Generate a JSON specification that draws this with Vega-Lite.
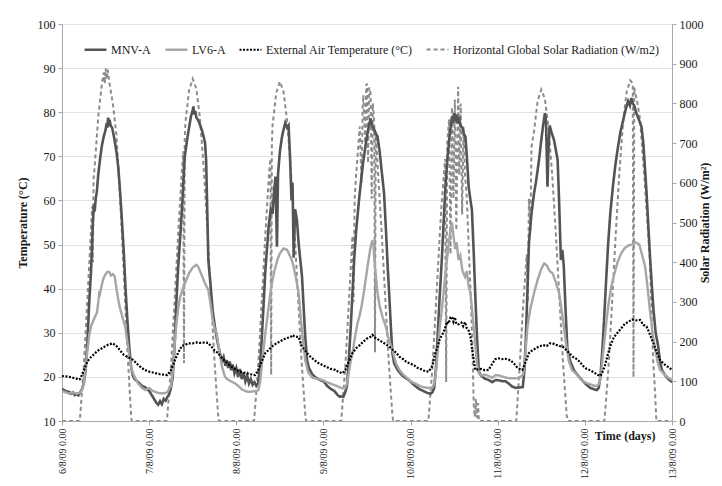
{
"$schema": "https://vega.github.io/schema/vega-lite/v6.json",
"width": 610, "height": 397,
"autosize": {"type": "none"},
"padding": {"left": 62, "top": 24, "right": 50, "bottom": 65},
"background": "white",
"config": {"font": "Liberation Serif", "view": {"stroke": null},
  "axis": {"labelFont": "Liberation Serif", "titleFont": "Liberation Serif", "labelColor": "#1a1a1a", "titleColor": "#1a1a1a", "domainColor": "#a8a8a8", "tickColor": "#a8a8a8", "tickSize": 4, "labelFontSize": 12, "titleFontSize": 12, "titleFontWeight": "bold"}},
"datasets": {"d": [
{"s":"M","t":0,"v":17.3},{"s":"M","t":1,"v":16.8},{"s":"M","t":2,"v":16.6},{"s":"M","t":2.5,"v":16.2},{"s":"M","t":3,"v":16.5},{"s":"M","t":3.5,"v":15.9},{"s":"M","t":4,"v":16.1},{"s":"M","t":4.5,"v":15.8},{"s":"M","t":5,"v":16.5},{"s":"M","t":5.5,"v":17.2},{"s":"M","t":6,"v":18.5},{"s":"M","t":6.5,"v":21.5},{"s":"M","t":7,"v":28},{"s":"M","t":7.5,"v":37},{"s":"M","t":8,"v":44},{"s":"M","t":8.5,"v":55},{"s":"M","t":8.8,"v":59},{"s":"M","t":9,"v":57.5},{"s":"M","t":9.3,"v":60.5},{"s":"M","t":9.6,"v":62},{"s":"M","t":10,"v":66},{"s":"M","t":10.5,"v":69.5},{"s":"M","t":11,"v":72.5},{"s":"M","t":11.5,"v":74.5},{"s":"M","t":12,"v":76},{"s":"M","t":12.3,"v":77.5},{"s":"M","t":12.5,"v":76.5},{"s":"M","t":12.7,"v":78.8},{"s":"M","t":12.9,"v":76.8},{"s":"M","t":13.1,"v":78.3},{"s":"M","t":13.4,"v":77},{"s":"M","t":13.8,"v":76.5},{"s":"M","t":14.3,"v":74.5},{"s":"M","t":15,"v":71},{"s":"M","t":15.5,"v":67.5},{"s":"M","t":16,"v":62},{"s":"M","t":16.5,"v":55.5},{"s":"M","t":17,"v":48.5},{"s":"M","t":17.5,"v":40},{"s":"M","t":18,"v":33},{"s":"M","t":18.5,"v":27},{"s":"M","t":19,"v":22.5},{"s":"M","t":19.5,"v":20.3},{"s":"M","t":20,"v":19.5},{"s":"M","t":21,"v":18.8},{"s":"M","t":22,"v":18},{"s":"M","t":23,"v":17.6},{"s":"M","t":24,"v":16.8},{"s":"M","t":25,"v":15.5},{"s":"M","t":25.5,"v":14.8},{"s":"M","t":26,"v":14.1},{"s":"M","t":26.5,"v":13.7},{"s":"M","t":27,"v":14.5},{"s":"M","t":27.5,"v":13.8},{"s":"M","t":28,"v":15},{"s":"M","t":28.5,"v":14.6},{"s":"M","t":29,"v":15.4},{"s":"M","t":29.5,"v":16},{"s":"M","t":30,"v":17.5},{"s":"M","t":30.5,"v":20},{"s":"M","t":31,"v":27},{"s":"M","t":31.5,"v":37},{"s":"M","t":32,"v":45},{"s":"M","t":32.5,"v":51},{"s":"M","t":32.9,"v":56.3},{"s":"M","t":33.3,"v":62},{"s":"M","t":33.8,"v":69.9},{"s":"M","t":34.5,"v":74},{"s":"M","t":35,"v":76.5},{"s":"M","t":35.5,"v":79},{"s":"M","t":36,"v":80.5},{"s":"M","t":36.2,"v":81.3},{"s":"M","t":36.4,"v":79.5},{"s":"M","t":36.7,"v":80.3},{"s":"M","t":37,"v":78.8},{"s":"M","t":37.5,"v":78.2},{"s":"M","t":38,"v":77.2},{"s":"M","t":38.5,"v":76},{"s":"M","t":39,"v":74.5},{"s":"M","t":39.4,"v":73},{"s":"M","t":39.7,"v":69},{"s":"M","t":40,"v":58},{"s":"M","t":40.3,"v":46.5},{"s":"M","t":41,"v":40},{"s":"M","t":41.5,"v":35},{"s":"M","t":42.1,"v":31.4},{"s":"M","t":42.8,"v":28},{"s":"M","t":43.5,"v":25.4},{"s":"M","t":44,"v":23.5},{"s":"M","t":44.5,"v":24.5},{"s":"M","t":45,"v":22.5},{"s":"M","t":45.4,"v":23.8},{"s":"M","t":45.8,"v":22},{"s":"M","t":46.2,"v":23.5},{"s":"M","t":46.6,"v":21.5},{"s":"M","t":47,"v":22.8},{"s":"M","t":47.5,"v":20.8},{"s":"M","t":48,"v":22},{"s":"M","t":48.5,"v":20},{"s":"M","t":49,"v":21.8},{"s":"M","t":49.5,"v":19.5},{"s":"M","t":50,"v":21},{"s":"M","t":50.5,"v":19},{"s":"M","t":51,"v":20.3},{"s":"M","t":51.5,"v":18.5},{"s":"M","t":52,"v":19.5},{"s":"M","t":52.5,"v":18.2},{"s":"M","t":53,"v":18.8},{"s":"M","t":53.5,"v":18},{"s":"M","t":54,"v":18.5},{"s":"M","t":54.5,"v":22},{"s":"M","t":55,"v":28.4},{"s":"M","t":55.5,"v":36},{"s":"M","t":56,"v":44},{"s":"M","t":56.9,"v":54},{"s":"M","t":57.5,"v":58},{"s":"M","t":58,"v":57},{"s":"M","t":58.4,"v":62},{"s":"M","t":58.8,"v":65.4},{"s":"M","t":59.2,"v":49.5},{"s":"M","t":59.5,"v":66},{"s":"M","t":60,"v":71},{"s":"M","t":60.6,"v":74.5},{"s":"M","t":61,"v":76},{"s":"M","t":61.5,"v":77.6},{"s":"M","t":62,"v":76.5},{"s":"M","t":62.4,"v":77},{"s":"M","t":62.8,"v":70},{"s":"M","t":63.2,"v":60},{"s":"M","t":63.5,"v":64},{"s":"M","t":63.8,"v":47},{"s":"M","t":64.2,"v":58},{"s":"M","t":64.7,"v":55.6},{"s":"M","t":65.2,"v":50},{"s":"M","t":65.7,"v":46},{"s":"M","t":66.1,"v":42.7},{"s":"M","t":66.6,"v":35},{"s":"M","t":67,"v":29},{"s":"M","t":67.5,"v":23.8},{"s":"M","t":68,"v":22},{"s":"M","t":69,"v":20.5},{"s":"M","t":70,"v":19.8},{"s":"M","t":71,"v":19.3},{"s":"M","t":72,"v":19},{"s":"M","t":73,"v":18},{"s":"M","t":74,"v":17.3},{"s":"M","t":75,"v":16.8},{"s":"M","t":76,"v":15.8},{"s":"M","t":76.5,"v":15.5},{"s":"M","t":77,"v":15.6},{"s":"M","t":77.5,"v":15.5},{"s":"M","t":78,"v":16.5},{"s":"M","t":78.5,"v":18},{"s":"M","t":79,"v":24},{"s":"M","t":79.5,"v":31},{"s":"M","t":80,"v":39},{"s":"M","t":80.5,"v":47},{"s":"M","t":81,"v":53},{"s":"M","t":81.8,"v":60.1},{"s":"M","t":82.5,"v":65.5},{"s":"M","t":83,"v":69},{"s":"M","t":83.7,"v":73},{"s":"M","t":84.3,"v":76},{"s":"M","t":85,"v":78.6},{"s":"M","t":85.4,"v":77},{"s":"M","t":85.8,"v":76.5},{"s":"M","t":86.3,"v":75.3},{"s":"M","t":86.9,"v":74.5},{"s":"M","t":87.5,"v":71},{"s":"M","t":88,"v":67},{"s":"M","t":88.7,"v":61.6},{"s":"M","t":89.3,"v":52},{"s":"M","t":89.7,"v":45},{"s":"M","t":90.1,"v":39},{"s":"M","t":90.6,"v":31},{"s":"M","t":91,"v":25.3},{"s":"M","t":91.5,"v":23},{"s":"M","t":92.5,"v":21.5},{"s":"M","t":93.5,"v":20.5},{"s":"M","t":94.5,"v":19.8},{"s":"M","t":95.5,"v":19.3},{"s":"M","t":96.5,"v":18.5},{"s":"M","t":97.5,"v":17.8},{"s":"M","t":98.5,"v":17.2},{"s":"M","t":99.5,"v":16.8},{"s":"M","t":100.5,"v":16.4},{"s":"M","t":101,"v":16.3},{"s":"M","t":101.5,"v":16.2},{"s":"M","t":102,"v":16.5},{"s":"M","t":102.5,"v":17.5},{"s":"M","t":103,"v":22},{"s":"M","t":103.5,"v":30},{"s":"M","t":104,"v":38},{"s":"M","t":104.6,"v":46.5},{"s":"M","t":105.1,"v":55},{"s":"M","t":105.6,"v":63.1},{"s":"M","t":106.2,"v":70},{"s":"M","t":106.8,"v":75},{"s":"M","t":107.4,"v":79},{"s":"M","t":107.7,"v":77.5},{"s":"M","t":108,"v":79.8},{"s":"M","t":108.3,"v":78},{"s":"M","t":108.6,"v":79.5},{"s":"M","t":108.9,"v":77.5},{"s":"M","t":109.3,"v":79},{"s":"M","t":109.7,"v":77},{"s":"M","t":110.3,"v":76.5},{"s":"M","t":110.7,"v":75},{"s":"M","t":111.1,"v":74.5},{"s":"M","t":111.5,"v":70},{"s":"M","t":112,"v":63.1},{"s":"M","t":112.5,"v":60},{"s":"M","t":112.9,"v":57.8},{"s":"M","t":113.4,"v":48},{"s":"M","t":113.8,"v":39},{"s":"M","t":114.3,"v":29},{"s":"M","t":114.8,"v":21.2},{"s":"M","t":115.5,"v":20.2},{"s":"M","t":116.5,"v":19.6},{"s":"M","t":117.5,"v":19.3},{"s":"M","t":118.5,"v":18.8},{"s":"M","t":119.4,"v":19.3},{"s":"M","t":120.5,"v":19.2},{"s":"M","t":121.5,"v":19},{"s":"M","t":122.2,"v":19},{"s":"M","t":123,"v":18.5},{"s":"M","t":124,"v":17.8},{"s":"M","t":125,"v":17.5},{"s":"M","t":126,"v":17.6},{"s":"M","t":126.9,"v":17.7},{"s":"M","t":127.3,"v":21},{"s":"M","t":127.7,"v":27.6},{"s":"M","t":128.2,"v":40},{"s":"M","t":128.6,"v":50.3},{"s":"M","t":129.3,"v":57},{"s":"M","t":130,"v":61.6},{"s":"M","t":130.5,"v":64},{"s":"M","t":131,"v":66.9},{"s":"M","t":131.5,"v":70},{"s":"M","t":131.9,"v":73},{"s":"M","t":132.5,"v":77},{"s":"M","t":133,"v":79.8},{"s":"M","t":133.3,"v":78},{"s":"M","t":133.7,"v":63.1},{"s":"M","t":134,"v":72},{"s":"M","t":134.3,"v":77},{"s":"M","t":134.8,"v":75.5},{"s":"M","t":135.5,"v":73.7},{"s":"M","t":136,"v":71.5},{"s":"M","t":136.5,"v":69.2},{"s":"M","t":136.9,"v":60},{"s":"M","t":137.4,"v":46.5},{"s":"M","t":137.8,"v":48.8},{"s":"M","t":138.2,"v":45},{"s":"M","t":138.7,"v":35},{"s":"M","t":139.2,"v":26.1},{"s":"M","t":140,"v":23.5},{"s":"M","t":141,"v":21.5},{"s":"M","t":142.4,"v":20},{"s":"M","t":143.5,"v":19},{"s":"M","t":144.5,"v":18.2},{"s":"M","t":145.5,"v":17.5},{"s":"M","t":146.5,"v":17.2},{"s":"M","t":147.3,"v":17},{"s":"M","t":147.8,"v":17.5},{"s":"M","t":148.3,"v":20},{"s":"M","t":148.8,"v":26},{"s":"M","t":149.3,"v":33},{"s":"M","t":149.8,"v":41},{"s":"M","t":150.4,"v":50},{"s":"M","t":151,"v":57},{"s":"M","t":151.7,"v":63},{"s":"M","t":152.4,"v":68},{"s":"M","t":153.1,"v":72},{"s":"M","t":153.8,"v":75.5},{"s":"M","t":154.5,"v":78},{"s":"M","t":155.2,"v":80.5},{"s":"M","t":155.9,"v":82.5},{"s":"M","t":156.4,"v":81.5},{"s":"M","t":156.8,"v":83.2},{"s":"M","t":157.2,"v":82},{"s":"M","t":157.6,"v":81.5},{"s":"M","t":158.1,"v":80},{"s":"M","t":158.8,"v":78.5},{"s":"M","t":159.6,"v":76.7},{"s":"M","t":160.1,"v":73},{"s":"M","t":160.5,"v":68},{"s":"M","t":161,"v":61.6},{"s":"M","t":161.5,"v":54},{"s":"M","t":162,"v":46.5},{"s":"M","t":162.5,"v":40},{"s":"M","t":162.9,"v":35.2},{"s":"M","t":163.5,"v":30},{"s":"M","t":164.2,"v":26.9},{"s":"M","t":164.7,"v":23.5},{"s":"M","t":165.2,"v":21.6},{"s":"M","t":166,"v":20.5},{"s":"M","t":167,"v":19.5},{"s":"M","t":168,"v":18.8},
{"s":"L","t":0,"v":16.8},{"s":"L","t":1,"v":16.5},{"s":"L","t":2,"v":16.2},{"s":"L","t":3,"v":16.5},{"s":"L","t":4,"v":16.2},{"s":"L","t":5,"v":16.4},{"s":"L","t":5.5,"v":17},{"s":"L","t":6,"v":18.5},{"s":"L","t":6.5,"v":22},{"s":"L","t":7,"v":26},{"s":"L","t":7.5,"v":29.5},{"s":"L","t":8,"v":31.5},{"s":"L","t":8.5,"v":32.5},{"s":"L","t":9,"v":33.5},{"s":"L","t":9.6,"v":34.5},{"s":"L","t":10,"v":37},{"s":"L","t":10.3,"v":39.5},{"s":"L","t":10.5,"v":39},{"s":"L","t":11,"v":41},{"s":"L","t":11.5,"v":42.5},{"s":"L","t":12,"v":43.3},{"s":"L","t":12.5,"v":43.8},{"s":"L","t":13,"v":43.8},{"s":"L","t":13.5,"v":43},{"s":"L","t":14,"v":43.3},{"s":"L","t":14.5,"v":42.8},{"s":"L","t":15,"v":40},{"s":"L","t":15.5,"v":37.5},{"s":"L","t":16,"v":35.5},{"s":"L","t":16.5,"v":34},{"s":"L","t":17,"v":32.5},{"s":"L","t":17.4,"v":31.4},{"s":"L","t":18,"v":28},{"s":"L","t":18.6,"v":24.5},{"s":"L","t":19.2,"v":21.6},{"s":"L","t":20,"v":20},{"s":"L","t":21,"v":18.5},{"s":"L","t":22,"v":17.5},{"s":"L","t":23,"v":17},{"s":"L","t":24,"v":17.5},{"s":"L","t":25,"v":16.8},{"s":"L","t":26,"v":16.5},{"s":"L","t":27,"v":16.3},{"s":"L","t":28,"v":16.3},{"s":"L","t":29,"v":16.5},{"s":"L","t":30,"v":18},{"s":"L","t":30.5,"v":21},{"s":"L","t":31,"v":27},{"s":"L","t":31.5,"v":32},{"s":"L","t":32,"v":35.5},{"s":"L","t":32.5,"v":38},{"s":"L","t":33.3,"v":40},{"s":"L","t":34,"v":41.5},{"s":"L","t":35,"v":43.5},{"s":"L","t":36,"v":44.8},{"s":"L","t":37,"v":45.4},{"s":"L","t":37.5,"v":45},{"s":"L","t":38,"v":44},{"s":"L","t":38.5,"v":43},{"s":"L","t":39,"v":42},{"s":"L","t":39.5,"v":41},{"s":"L","t":40.3,"v":39.7},{"s":"L","t":41,"v":36},{"s":"L","t":41.5,"v":33},{"s":"L","t":42,"v":31},{"s":"L","t":42.6,"v":29.9},{"s":"L","t":43.3,"v":26},{"s":"L","t":44,"v":22.5},{"s":"L","t":44.9,"v":20},{"s":"L","t":45.5,"v":19.5},{"s":"L","t":46.5,"v":19},{"s":"L","t":47.5,"v":18.6},{"s":"L","t":48.5,"v":18},{"s":"L","t":49.5,"v":17.2},{"s":"L","t":50.5,"v":16.8},{"s":"L","t":51.4,"v":16.6},{"s":"L","t":52.5,"v":16.7},{"s":"L","t":53.5,"v":16.8},{"s":"L","t":54.1,"v":17},{"s":"L","t":54.6,"v":19},{"s":"L","t":55.2,"v":24},{"s":"L","t":56,"v":29.9},{"s":"L","t":56.7,"v":34.5},{"s":"L","t":57.3,"v":38.5},{"s":"L","t":57.8,"v":41.2},{"s":"L","t":58.5,"v":44},{"s":"L","t":59.3,"v":46.5},{"s":"L","t":60,"v":48},{"s":"L","t":61,"v":49.1},{"s":"L","t":62,"v":48.8},{"s":"L","t":62.9,"v":47.2},{"s":"L","t":63.5,"v":46},{"s":"L","t":64.3,"v":43},{"s":"L","t":65.2,"v":38.9},{"s":"L","t":65.8,"v":33},{"s":"L","t":66.4,"v":28},{"s":"L","t":67,"v":23.8},{"s":"L","t":67.8,"v":21},{"s":"L","t":69,"v":19.8},{"s":"L","t":70.5,"v":19.5},{"s":"L","t":71.7,"v":19.3},{"s":"L","t":73,"v":18.8},{"s":"L","t":74.5,"v":18.3},{"s":"L","t":75.5,"v":18},{"s":"L","t":76.5,"v":17.6},{"s":"L","t":77.2,"v":17.4},{"s":"L","t":78,"v":17.5},{"s":"L","t":78.5,"v":18.5},{"s":"L","t":79,"v":21},{"s":"L","t":79.5,"v":23.5},{"s":"L","t":80,"v":25.3},{"s":"L","t":80.5,"v":28},{"s":"L","t":81,"v":30.5},{"s":"L","t":81.5,"v":32.5},{"s":"L","t":82,"v":34},{"s":"L","t":82.5,"v":36},{"s":"L","t":83.1,"v":39},{"s":"L","t":83.8,"v":43},{"s":"L","t":84.5,"v":47},{"s":"L","t":85,"v":49.5},{"s":"L","t":85.5,"v":51},{"s":"L","t":85.8,"v":49.5},{"s":"L","t":86.2,"v":45},{"s":"L","t":86.9,"v":39},{"s":"L","t":87.5,"v":36},{"s":"L","t":88.3,"v":33.5},{"s":"L","t":89.2,"v":31.4},{"s":"L","t":90,"v":28.5},{"s":"L","t":91,"v":26.1},{"s":"L","t":92,"v":23},{"s":"L","t":93,"v":21.5},{"s":"L","t":94,"v":20.5},{"s":"L","t":95,"v":19.8},{"s":"L","t":96,"v":19},{"s":"L","t":97,"v":18.6},{"s":"L","t":98,"v":18.2},{"s":"L","t":99,"v":17.8},{"s":"L","t":100,"v":17.6},{"s":"L","t":101,"v":17.5},{"s":"L","t":102,"v":17.6},{"s":"L","t":102.5,"v":18.5},{"s":"L","t":103,"v":21},{"s":"L","t":103.5,"v":26},{"s":"L","t":104,"v":31},{"s":"L","t":104.6,"v":35.2},{"s":"L","t":105.2,"v":40},{"s":"L","t":105.8,"v":45},{"s":"L","t":106.5,"v":50},{"s":"L","t":107,"v":53.5},{"s":"L","t":107.4,"v":55},{"s":"L","t":107.8,"v":52},{"s":"L","t":108.3,"v":49},{"s":"L","t":108.7,"v":50.5},{"s":"L","t":109.2,"v":46.5},{"s":"L","t":109.7,"v":47.5},{"s":"L","t":110.3,"v":44},{"s":"L","t":111,"v":42.7},{"s":"L","t":111.5,"v":44},{"s":"L","t":112,"v":40.5},{"s":"L","t":112.5,"v":39},{"s":"L","t":113.2,"v":33},{"s":"L","t":113.8,"v":27.6},{"s":"L","t":114.3,"v":23},{"s":"L","t":114.8,"v":20.8},{"s":"L","t":115.5,"v":20.3},{"s":"L","t":116.5,"v":20.5},{"s":"L","t":117.5,"v":20.2},{"s":"L","t":118.5,"v":19.8},{"s":"L","t":119.4,"v":20.4},{"s":"L","t":120.5,"v":20.3},{"s":"L","t":121.5,"v":20},{"s":"L","t":122.5,"v":19.8},{"s":"L","t":123.5,"v":19.7},{"s":"L","t":125,"v":19.7},{"s":"L","t":126,"v":19.8},{"s":"L","t":127,"v":20.5},{"s":"L","t":127.5,"v":24},{"s":"L","t":128.2,"v":31.4},{"s":"L","t":129,"v":35.5},{"s":"L","t":130,"v":39},{"s":"L","t":131,"v":42},{"s":"L","t":132,"v":44.5},{"s":"L","t":132.8,"v":45.7},{"s":"L","t":133.5,"v":45.3},{"s":"L","t":134.3,"v":44},{"s":"L","t":135.1,"v":43.5},{"s":"L","t":136,"v":41.5},{"s":"L","t":136.9,"v":39},{"s":"L","t":137.8,"v":34},{"s":"L","t":138.8,"v":27.6},{"s":"L","t":139.6,"v":23.5},{"s":"L","t":140.5,"v":21.5},{"s":"L","t":141.5,"v":20.8},{"s":"L","t":142.5,"v":19.8},{"s":"L","t":143.5,"v":19},{"s":"L","t":144.5,"v":18.6},{"s":"L","t":145.5,"v":18.3},{"s":"L","t":146.5,"v":18},{"s":"L","t":147.3,"v":17.9},{"s":"L","t":148,"v":18.5},{"s":"L","t":148.5,"v":21},{"s":"L","t":149,"v":25},{"s":"L","t":149.5,"v":29},{"s":"L","t":150,"v":33},{"s":"L","t":150.6,"v":37},{"s":"L","t":151.3,"v":40.5},{"s":"L","t":152,"v":43},{"s":"L","t":153,"v":46},{"s":"L","t":154,"v":48},{"s":"L","t":155,"v":49.2},{"s":"L","t":156,"v":49.8},{"s":"L","t":157,"v":50},{"s":"L","t":158,"v":50.5},{"s":"L","t":159,"v":50},{"s":"L","t":159.8,"v":47.5},{"s":"L","t":160.6,"v":45},{"s":"L","t":161.3,"v":40},{"s":"L","t":162,"v":34.5},{"s":"L","t":162.7,"v":29.5},{"s":"L","t":163.4,"v":26.1},{"s":"L","t":164,"v":23.5},{"s":"L","t":164.7,"v":21.6},{"s":"L","t":166,"v":20.5},{"s":"L","t":167,"v":19.8},{"s":"L","t":168,"v":19.3},
{"s":"A","t":0,"v":20.2},{"s":"A","t":1,"v":20.1},{"s":"A","t":2,"v":20},{"s":"A","t":3,"v":19.8},{"s":"A","t":4,"v":19.6},{"s":"A","t":4.5,"v":19.4},{"s":"A","t":5,"v":19.5},{"s":"A","t":5.5,"v":20.5},{"s":"A","t":6,"v":21.5},{"s":"A","t":6.5,"v":22.5},{"s":"A","t":7,"v":23.5},{"s":"A","t":8,"v":24.5},{"s":"A","t":9,"v":25.3},{"s":"A","t":10,"v":26},{"s":"A","t":11,"v":26.5},{"s":"A","t":12,"v":27},{"s":"A","t":13,"v":27.4},{"s":"A","t":14,"v":27.6},{"s":"A","t":15,"v":27},{"s":"A","t":16,"v":26},{"s":"A","t":17,"v":25},{"s":"A","t":18,"v":24.5},{"s":"A","t":19,"v":24.2},{"s":"A","t":20,"v":23.5},{"s":"A","t":21,"v":22.7},{"s":"A","t":22,"v":22},{"s":"A","t":23,"v":21.5},{"s":"A","t":24,"v":21.2},{"s":"A","t":25,"v":21},{"s":"A","t":26,"v":20.8},{"s":"A","t":27,"v":20.6},{"s":"A","t":28,"v":20.5},{"s":"A","t":29,"v":20.4},{"s":"A","t":30,"v":21.5},{"s":"A","t":30.5,"v":22.5},{"s":"A","t":31.1,"v":23.8},{"s":"A","t":32,"v":25.5},{"s":"A","t":33,"v":27},{"s":"A","t":34,"v":27.3},{"s":"A","t":34.8,"v":27.6},{"s":"A","t":36,"v":27.6},{"s":"A","t":37,"v":27.8},{"s":"A","t":38,"v":27.7},{"s":"A","t":39,"v":27.8},{"s":"A","t":40.3,"v":27.7},{"s":"A","t":41,"v":27},{"s":"A","t":42,"v":26},{"s":"A","t":43,"v":25.4},{"s":"A","t":44,"v":24.3},{"s":"A","t":45,"v":23.5},{"s":"A","t":46,"v":22.8},{"s":"A","t":46.7,"v":22.3},{"s":"A","t":47.5,"v":21.9},{"s":"A","t":48,"v":21.6},{"s":"A","t":49,"v":21.2},{"s":"A","t":50,"v":21},{"s":"A","t":51,"v":20.8},{"s":"A","t":52,"v":20.6},{"s":"A","t":53.2,"v":20.4},{"s":"A","t":54,"v":21.5},{"s":"A","t":55,"v":23.5},{"s":"A","t":56,"v":25.4},{"s":"A","t":57,"v":26.2},{"s":"A","t":58,"v":27},{"s":"A","t":59,"v":27.6},{"s":"A","t":60,"v":28},{"s":"A","t":61,"v":28.5},{"s":"A","t":62,"v":28.8},{"s":"A","t":63,"v":29.1},{"s":"A","t":63.5,"v":29.5},{"s":"A","t":64,"v":29.2},{"s":"A","t":65.2,"v":29},{"s":"A","t":66,"v":27},{"s":"A","t":67.5,"v":25.4},{"s":"A","t":68.5,"v":24.5},{"s":"A","t":69.5,"v":23.8},{"s":"A","t":70.5,"v":23.2},{"s":"A","t":71.7,"v":22.7},{"s":"A","t":73,"v":22.2},{"s":"A","t":74,"v":21.8},{"s":"A","t":75.3,"v":21.6},{"s":"A","t":76,"v":21.2},{"s":"A","t":77.2,"v":20.8},{"s":"A","t":78,"v":21.5},{"s":"A","t":79,"v":23.5},{"s":"A","t":80,"v":25.4},{"s":"A","t":81,"v":26.5},{"s":"A","t":82,"v":27.2},{"s":"A","t":83,"v":28},{"s":"A","t":84,"v":28.7},{"s":"A","t":85,"v":29.1},{"s":"A","t":85.5,"v":29.5},{"s":"A","t":86,"v":29},{"s":"A","t":87,"v":28.5},{"s":"A","t":88,"v":28},{"s":"A","t":89,"v":27.5},{"s":"A","t":90.1,"v":26.9},{"s":"A","t":91,"v":26.2},{"s":"A","t":92,"v":25.5},{"s":"A","t":93,"v":24.5},{"s":"A","t":94,"v":24},{"s":"A","t":95,"v":23.3},{"s":"A","t":96,"v":23},{"s":"A","t":97,"v":22.6},{"s":"A","t":98,"v":22},{"s":"A","t":99.3,"v":21.6},{"s":"A","t":100,"v":21.3},{"s":"A","t":101,"v":21.2},{"s":"A","t":102,"v":22.5},{"s":"A","t":102.8,"v":25.4},{"s":"A","t":103.5,"v":27},{"s":"A","t":104,"v":28.5},{"s":"A","t":105,"v":30},{"s":"A","t":105.5,"v":31},{"s":"A","t":106,"v":32.5},{"s":"A","t":106.5,"v":32.1},{"s":"A","t":107,"v":33.5},{"s":"A","t":107.4,"v":33.6},{"s":"A","t":107.8,"v":32.5},{"s":"A","t":108.2,"v":33.5},{"s":"A","t":108.6,"v":32},{"s":"A","t":109.2,"v":31.9},{"s":"A","t":110,"v":32.3},{"s":"A","t":110.5,"v":31.5},{"s":"A","t":111,"v":32.4},{"s":"A","t":111.5,"v":31},{"s":"A","t":112,"v":30.5},{"s":"A","t":112.5,"v":29.1},{"s":"A","t":113,"v":26},{"s":"A","t":113.8,"v":21.6},{"s":"A","t":114.5,"v":21.7},{"s":"A","t":115.5,"v":21.8},{"s":"A","t":116.5,"v":21.5},{"s":"A","t":117.5,"v":21.6},{"s":"A","t":118.5,"v":23},{"s":"A","t":119.3,"v":24},{"s":"A","t":120.3,"v":24.2},{"s":"A","t":121,"v":24},{"s":"A","t":122,"v":24.1},{"s":"A","t":123.5,"v":23.8},{"s":"A","t":124.5,"v":23},{"s":"A","t":125.5,"v":22},{"s":"A","t":126.8,"v":21.6},{"s":"A","t":127.5,"v":23},{"s":"A","t":128.6,"v":25.4},{"s":"A","t":129.5,"v":26},{"s":"A","t":130.5,"v":26.5},{"s":"A","t":131.4,"v":26.9},{"s":"A","t":132.5,"v":27.2},{"s":"A","t":133.5,"v":27},{"s":"A","t":134.3,"v":27.6},{"s":"A","t":135.1,"v":27.6},{"s":"A","t":136,"v":27.3},{"s":"A","t":137,"v":27},{"s":"A","t":137.9,"v":26.9},{"s":"A","t":139,"v":26},{"s":"A","t":140.6,"v":24.6},{"s":"A","t":141.5,"v":24.2},{"s":"A","t":142.5,"v":23.5},{"s":"A","t":143.5,"v":22.5},{"s":"A","t":144.5,"v":21.8},{"s":"A","t":145.5,"v":21.5},{"s":"A","t":146.5,"v":21},{"s":"A","t":147.5,"v":20.5},{"s":"A","t":148.3,"v":20.2},{"s":"A","t":148.8,"v":21},{"s":"A","t":149.5,"v":22.5},{"s":"A","t":150.3,"v":25},{"s":"A","t":151,"v":27},{"s":"A","t":152,"v":29},{"s":"A","t":153,"v":30},{"s":"A","t":154,"v":31},{"s":"A","t":155,"v":32},{"s":"A","t":156,"v":32.5},{"s":"A","t":157,"v":33},{"s":"A","t":158,"v":32.8},{"s":"A","t":159.2,"v":32.9},{"s":"A","t":160.1,"v":31.8},{"s":"A","t":161,"v":31.4},{"s":"A","t":161.5,"v":30.5},{"s":"A","t":162.9,"v":27.6},{"s":"A","t":163.5,"v":26.2},{"s":"A","t":164.7,"v":23.8},{"s":"A","t":166,"v":22.8},{"s":"A","t":167,"v":22.2},{"s":"A","t":168,"v":21.6},
{"s":"R","t":0,"v":0},{"s":"R","t":4.9,"v":0},{"s":"R","t":6,"v":137},{"s":"R","t":7,"v":307},{"s":"R","t":8,"v":482},{"s":"R","t":8.3,"v":540},{"s":"R","t":8.5,"v":400},{"s":"R","t":8.7,"v":610},{"s":"R","t":9,"v":641},{"s":"R","t":10,"v":768},{"s":"R","t":11,"v":850},{"s":"R","t":11.5,"v":878},{"s":"R","t":11.8,"v":850},{"s":"R","t":12,"v":888},{"s":"R","t":12.3,"v":860},{"s":"R","t":12.6,"v":885},{"s":"R","t":13,"v":855},{"s":"R","t":14,"v":800},{"s":"R","t":15,"v":720},{"s":"R","t":16,"v":560},{"s":"R","t":17,"v":380},{"s":"R","t":18,"v":180},{"s":"R","t":19,"v":20},{"s":"R","t":19.2,"v":0},
{"s":"R","t":28.9,"v":0},{"s":"R","t":30,"v":134},{"s":"R","t":31,"v":301},{"s":"R","t":32,"v":472},{"s":"R","t":33,"v":628},{"s":"R","t":33.4,"v":680},{"s":"R","t":33.6,"v":146},{"s":"R","t":33.8,"v":710},{"s":"R","t":34,"v":753},{"s":"R","t":35,"v":833},{"s":"R","t":36,"v":862},{"s":"R","t":37,"v":837},{"s":"R","t":38,"v":762},{"s":"R","t":39,"v":641},{"s":"R","t":40,"v":488},{"s":"R","t":41,"v":318},{"s":"R","t":42,"v":150},{"s":"R","t":43,"v":15},{"s":"R","t":43.2,"v":0},
{"s":"R","t":52.9,"v":0},{"s":"R","t":54,"v":133},{"s":"R","t":55,"v":298},{"s":"R","t":56,"v":469},{"s":"R","t":57,"v":622},{"s":"R","t":57.4,"v":660},{"s":"R","t":57.6,"v":116},{"s":"R","t":57.8,"v":700},{"s":"R","t":58,"v":746},{"s":"R","t":59,"v":826},{"s":"R","t":60,"v":855},{"s":"R","t":61,"v":830},{"s":"R","t":62,"v":756},{"s":"R","t":63,"v":636},{"s":"R","t":64,"v":484},{"s":"R","t":65,"v":315},{"s":"R","t":66,"v":149},{"s":"R","t":67,"v":15},{"s":"R","t":67.2,"v":0},
{"s":"R","t":76.9,"v":0},{"s":"R","t":78,"v":133},{"s":"R","t":79,"v":297},{"s":"R","t":80,"v":466},{"s":"R","t":80.3,"v":300},{"s":"R","t":80.6,"v":560},{"s":"R","t":81,"v":619},{"s":"R","t":82,"v":742},{"s":"R","t":82.5,"v":600},{"s":"R","t":82.8,"v":790},{"s":"R","t":83,"v":821},{"s":"R","t":83.5,"v":700},{"s":"R","t":83.8,"v":845},{"s":"R","t":84,"v":850},{"s":"R","t":84.3,"v":650},{"s":"R","t":84.6,"v":840},{"s":"R","t":85,"v":825},{"s":"R","t":85.3,"v":560},{"s":"R","t":85.6,"v":800},{"s":"R","t":86,"v":751},{"s":"R","t":86.2,"v":173},{"s":"R","t":86.4,"v":730},{"s":"R","t":87,"v":632},{"s":"R","t":88,"v":481},{"s":"R","t":89,"v":314},{"s":"R","t":90,"v":148},{"s":"R","t":91,"v":14},{"s":"R","t":91.2,"v":0},
{"s":"R","t":100.9,"v":0},{"s":"R","t":102,"v":132},{"s":"R","t":103,"v":295},{"s":"R","t":104,"v":463},{"s":"R","t":104.5,"v":540},{"s":"R","t":105,"v":600},{"s":"R","t":105.5,"v":660},{"s":"R","t":105.8,"v":98},{"s":"R","t":106.1,"v":700},{"s":"R","t":106.6,"v":760},{"s":"R","t":107,"v":420},{"s":"R","t":107.4,"v":790},{"s":"R","t":107.8,"v":560},{"s":"R","t":108.2,"v":810},{"s":"R","t":108.6,"v":480},{"s":"R","t":109.1,"v":842},{"s":"R","t":109.4,"v":620},{"s":"R","t":109.8,"v":800},{"s":"R","t":110.2,"v":520},{"s":"R","t":110.6,"v":740},{"s":"R","t":111,"v":620},{"s":"R","t":111.5,"v":560},{"s":"R","t":111.8,"v":489},{"s":"R","t":112.5,"v":330},{"s":"R","t":113,"v":200},{"s":"R","t":113.4,"v":40},{"s":"R","t":113.7,"v":10},{"s":"R","t":114,"v":55},{"s":"R","t":114.3,"v":8},{"s":"R","t":114.6,"v":45},{"s":"R","t":114.8,"v":0},
{"s":"R","t":125.1,"v":0},{"s":"R","t":126,"v":130},{"s":"R","t":127,"v":291},{"s":"R","t":128,"v":420},{"s":"R","t":128.3,"v":300},{"s":"R","t":128.6,"v":560},{"s":"R","t":129,"v":480},{"s":"R","t":129.3,"v":690},{"s":"R","t":130,"v":729},{"s":"R","t":131,"v":807},{"s":"R","t":132,"v":835},{"s":"R","t":133,"v":811},{"s":"R","t":134,"v":738},{"s":"R","t":135,"v":621},{"s":"R","t":136,"v":473},{"s":"R","t":137,"v":308},{"s":"R","t":138,"v":145},{"s":"R","t":139,"v":14},{"s":"R","t":139.3,"v":0},
{"s":"R","t":149.4,"v":0},{"s":"R","t":150.5,"v":134},{"s":"R","t":151.5,"v":299},{"s":"R","t":152.5,"v":470},{"s":"R","t":153.5,"v":625},{"s":"R","t":154.5,"v":749},{"s":"R","t":155.5,"v":829},{"s":"R","t":156.5,"v":858},{"s":"R","t":157.2,"v":850},{"s":"R","t":157.4,"v":110},{"s":"R","t":157.6,"v":840},{"s":"R","t":158.5,"v":800},{"s":"R","t":159.2,"v":760},{"s":"R","t":160.5,"v":600},{"s":"R","t":161.9,"v":405},{"s":"R","t":162.8,"v":154},{"s":"R","t":163.3,"v":78},{"s":"R","t":163.7,"v":0},{"s":"R","t":168,"v":0}
]},
"data": {"name": "d"},
"encoding": {
  "x": {"field": "t", "type": "quantitative", "scale": {"domain": [0, 168], "nice": false, "zero": false},
    "axis": {"values": [0, 24, 48, 72, 96, 120, 144, 168], "labelExpr": "(6 + datum.value / 24) + '/8/09 0.00'", "labelAngle": 270, "labelFontSize": 10, "labelPadding": 3, "grid": false,
      "title": "Time (days)", "titleAngle": 0, "titleX": 593, "titleY": 14, "titleAlign": "right", "titleBaseline": "middle", "titleFontSize": 12}},
  "color": {"field": "s", "type": "nominal",
    "scale": {"domain": ["M", "L", "A", "R"], "range": ["#545454", "#a6a6a6", "#000000", "#8c8c8c"]},
    "legend": {"orient": "none", "legendX": 21, "legendY": 13, "direction": "horizontal", "columns": 4, "title": null, "symbolType": "stroke", "symbolSize": 480, "labelFontSize": 12, "labelFont": "Liberation Serif", "labelColor": "#1a1a1a", "labelLimit": 0, "columnPadding": 9, "labelOffset": 3,
      "labelExpr": "{'M': 'MNV-A', 'L': 'LV6-A', 'A': 'External Air Temperature (°C)', 'R': 'Horizontal Global Solar Radiation (W/m2)'}[datum.label]"}},
  "strokeDash": {"field": "s", "type": "nominal",
    "scale": {"domain": ["M", "L", "A", "R"], "range": [[1, 0], [1, 0], [2, 1.5], [4, 3]]},
    "legend": {"orient": "none", "legendX": 21, "legendY": 13, "direction": "horizontal", "columns": 4, "title": null, "symbolType": "stroke", "symbolSize": 480, "labelFontSize": 12, "labelFont": "Liberation Serif", "labelColor": "#1a1a1a", "labelLimit": 0, "columnPadding": 9, "labelOffset": 3,
      "labelExpr": "{'M': 'MNV-A', 'L': 'LV6-A', 'A': 'External Air Temperature (°C)', 'R': 'Horizontal Global Solar Radiation (W/m2)'}[datum.label]"}},
  "strokeWidth": {"field": "s", "type": "nominal",
    "scale": {"domain": ["M", "L", "A", "R"], "range": [2.6, 2, 1.3, 1]},
    "legend": {"orient": "none", "legendX": 21, "legendY": 13, "direction": "horizontal", "columns": 4, "title": null, "symbolType": "stroke", "symbolSize": 480, "labelFontSize": 12, "labelFont": "Liberation Serif", "labelColor": "#1a1a1a", "labelLimit": 0, "columnPadding": 9, "labelOffset": 3,
      "labelExpr": "{'M': 'MNV-A', 'L': 'LV6-A', 'A': 'External Air Temperature (°C)', 'R': 'Horizontal Global Solar Radiation (W/m2)'}[datum.label]"}}
},
"layer": [
  {"transform": [{"filter": "datum.s == 'R'"}],
   "mark": {"type": "line", "clip": true},
   "encoding": {"y": {"field": "v", "type": "quantitative", "scale": {"domain": [0, 1000], "nice": false},
     "axis": {"orient": "right", "values": [0, 100, 200, 300, 400, 500, 600, 700, 800, 900, 1000], "format": "d", "grid": false, "title": "Solar Radiation (W/m²)", "titleAngle": 270, "titlePadding": 8, "labelPadding": 3}}}},
  {"encoding": {"y": {"field": "v", "type": "quantitative", "scale": {"domain": [10, 100], "nice": false, "zero": false},
     "axis": {"orient": "left", "values": [10, 20, 30, 40, 50, 60, 70, 80, 90, 100], "grid": true, "gridColor": "#e2e2e2", "title": "Temperature (°C)", "titlePadding": 8, "labelPadding": 3}}},
   "layer": [
     {"transform": [{"filter": "datum.s == 'M'"}], "mark": {"type": "line", "clip": true}},
     {"transform": [{"filter": "datum.s == 'L'"}], "mark": {"type": "line", "clip": true}},
     {"transform": [{"filter": "datum.s == 'A'"}], "mark": {"type": "line", "clip": true}}
   ]}
],
"resolve": {"scale": {"y": "independent"}}
}
